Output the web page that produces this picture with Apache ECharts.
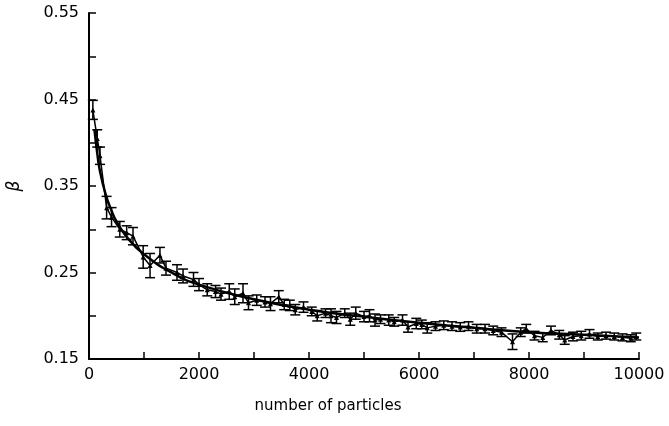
<!DOCTYPE html>
<html>
<head>
  <meta charset="utf-8">
  <title>beta vs number of particles</title>
  <script src="https://cdn.jsdelivr.net/npm/echarts@6/dist/echarts.min.js"></script>
  <style>
    html, body { margin: 0; padding: 0; background: #fff; }
    #chart { width: 669px; height: 426px; }
  </style>
</head>
<body>
  <div id="chart"></div>
  <script>
    // measured points: number of particles, beta, half error
    var particles = [70, 150, 200, 320, 410, 560, 685, 800, 985, 1110, 1290, 1400, 1600, 1710, 1900,
      2000, 2150, 2300, 2400, 2550, 2650, 2800, 2900, 3050, 3200, 3300, 3450, 3550, 3650, 3750, 3900,
      4050, 4150, 4300, 4400, 4500, 4650, 4750, 4850, 5000, 5100, 5200, 5300, 5450, 5550, 5700, 5800,
      5950, 6050, 6150, 6300, 6450, 6600, 6750, 6900, 7050, 7200, 7350, 7500, 7700, 7850, 7950, 8100,
      8250, 8400, 8550, 8650, 8800, 8950, 9100, 9250, 9400, 9550, 9700, 9850, 9950];
    var beta = [0.438, 0.405, 0.385, 0.325, 0.314, 0.300, 0.296, 0.292, 0.268, 0.258, 0.270, 0.255, 0.250, 0.246, 0.242,
      0.236, 0.230, 0.228, 0.225, 0.228, 0.222, 0.226, 0.215, 0.218, 0.216, 0.214, 0.222, 0.213, 0.212, 0.207, 0.210,
      0.205, 0.200, 0.203, 0.200, 0.198, 0.203, 0.196, 0.203, 0.199, 0.200, 0.195, 0.196, 0.195, 0.193, 0.195, 0.187,
      0.191, 0.190, 0.186, 0.188, 0.189, 0.188, 0.187, 0.188, 0.185, 0.185, 0.183, 0.181, 0.170, 0.181, 0.185, 0.177,
      0.175, 0.183, 0.178, 0.172, 0.176, 0.177, 0.179, 0.176, 0.177, 0.176, 0.175, 0.174, 0.176];
    var errors = [0.011, 0.010, 0.010, 0.013, 0.011, 0.009, 0.008, 0.010, 0.013, 0.014, 0.009, 0.008, 0.009, 0.008, 0.008,
      0.007, 0.007, 0.007, 0.007, 0.009, 0.009, 0.011, 0.008, 0.006, 0.006, 0.008, 0.007, 0.006, 0.006, 0.006, 0.006,
      0.005, 0.006, 0.005, 0.008, 0.007, 0.005, 0.007, 0.007, 0.006, 0.007, 0.007, 0.005, 0.006, 0.005, 0.006, 0.006,
      0.006, 0.005, 0.006, 0.005, 0.005, 0.005, 0.005, 0.005, 0.005, 0.005, 0.005, 0.005, 0.009, 0.005, 0.005, 0.005,
      0.005, 0.005, 0.005, 0.005, 0.005, 0.005, 0.005, 0.004, 0.004, 0.004, 0.004, 0.004, 0.004];

    // fitted curve
    var fitX = [100, 150, 200, 300, 400, 500, 700, 1000, 1500, 2000, 3000, 4000, 5000, 6000, 7000, 8000, 9000, 10000];
    var fitY = [0.415, 0.388, 0.367, 0.341, 0.323, 0.309, 0.290, 0.271, 0.250, 0.236, 0.219, 0.207, 0.199, 0.192, 0.186, 0.181, 0.178, 0.175];

    var yTicks = ['0.15', '0.25', '0.35', '0.45', '0.55'];

    var points = particles.map(function (n, i) { return [n, beta[i]]; });
    var bars = particles.map(function (n, i) { return [n, beta[i] - errors[i], beta[i] + errors[i]]; });
    var fit = fitX.map(function (n, i) { return [n, fitY[i]]; });

    var font = 'DejaVu Sans';
    var chart = echarts.init(document.getElementById('chart'));
    chart.setOption({
      animation: false,
      grid: { left: 89, right: 30, top: 13, bottom: 67, outerBoundsMode: 'none', containLabel: false },
      xAxis: {
        type: 'value', min: 0, max: 10000, interval: 2000,
        name: 'number of particles', nameLocation: 'middle', nameGap: 40,
        nameTextStyle: { fontFamily: font, fontSize: 15, color: '#000', padding: [0, 72, 0, 0] },
        axisLine: { lineStyle: { color: '#000', width: 2 } },
        axisTick: { inside: true, length: 7, lineStyle: { color: '#000', width: 1.5 } },
        minorTick: { show: true, splitNumber: 2, length: 7, lineStyle: { color: '#000', width: 1.5 } },
        axisLabel: {
          fontFamily: font, fontSize: 16, color: '#000', margin: 8,
          formatter: function (v) { return String(v); }
        },
        splitLine: { show: false }
      },
      yAxis: {
        type: 'value', min: 0.15, max: 0.55, interval: 0.05,
        name: 'β', nameLocation: 'middle', nameGap: 66, nameRotate: 90,
        nameTextStyle: { fontFamily: font, fontSize: 17, color: '#000', fontStyle: 'italic' },
        axisLine: { show: true, lineStyle: { color: '#000', width: 2 } },
        axisTick: { inside: true, length: 7, lineStyle: { color: '#000', width: 1.5 } },
        axisLabel: {
          fontFamily: font, fontSize: 16, color: '#000', margin: 10,
          formatter: function (v) {
            var s = v.toFixed(2);
            return yTicks.indexOf(s) >= 0 ? s : '';
          }
        },
        splitLine: { show: false }
      },
      series: [
        {
          type: 'custom',
          data: bars,
          renderItem: function (params, api) {
            var x = api.value(0);
            var lo = api.coord([x, api.value(1)]);
            var hi = api.coord([x, api.value(2)]);
            var w = 5;
            var st = { stroke: '#000', lineWidth: 1.5 };
            return {
              type: 'group',
              children: [
                { type: 'line', shape: { x1: lo[0], y1: lo[1], x2: hi[0], y2: hi[1] }, style: st },
                { type: 'line', shape: { x1: lo[0] - w, y1: lo[1], x2: lo[0] + w, y2: lo[1] }, style: st },
                { type: 'line', shape: { x1: hi[0] - w, y1: hi[1], x2: hi[0] + w, y2: hi[1] }, style: st }
              ]
            };
          },
          z: 2
        },
        {
          type: 'line',
          data: points,
          symbol: 'triangle', symbolSize: 5,
          itemStyle: { color: '#000' },
          lineStyle: { color: '#000', width: 1.5 },
          z: 3
        },
        {
          type: 'line',
          data: fit,
          smooth: true,
          symbol: 'none',
          lineStyle: { color: '#000', width: 2.5 },
          z: 4
        }
      ]
    });
  </script>
</body>
</html>
